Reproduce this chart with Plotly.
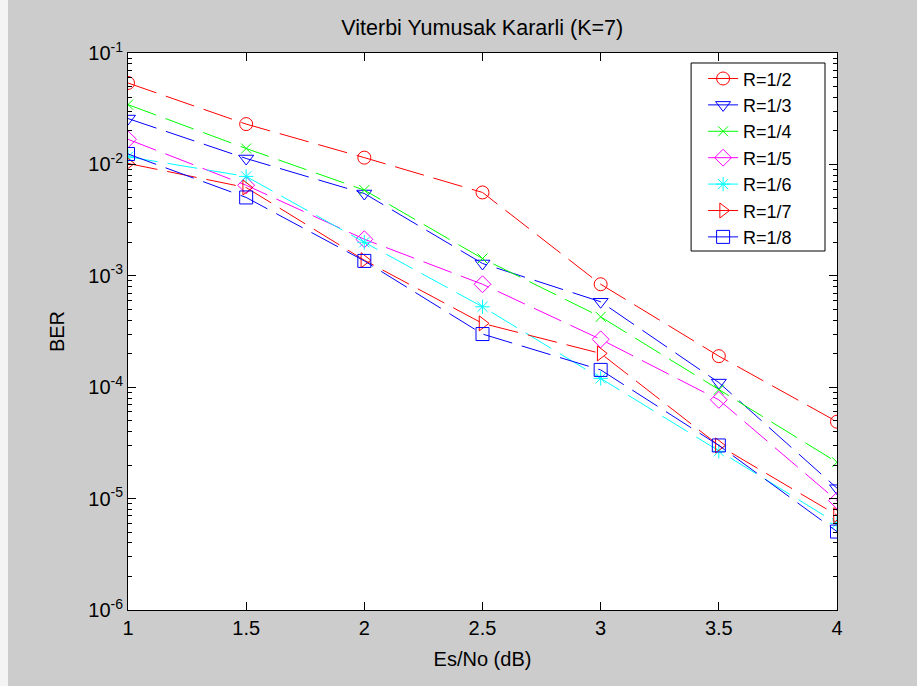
import plotly.graph_objects as go

# ---- data ----
snr_db = [1, 1.5, 2, 2.5, 3, 3.5, 4]
ber_r2 = [5.38e-2, 2.30e-2, 1.15e-2, 5.6e-3, 8.4e-4, 1.9e-4, 4.9e-5]
ber_r3 = [2.58e-2, 1.13e-2, 5.48e-3, 1.29e-3, 5.85e-4, 1.10e-4, 1.24e-5]
ber_r4 = [3.44e-2, 1.39e-2, 5.88e-3, 1.43e-3, 4.28e-4, 9.5e-5, 2.12e-5]
ber_r5 = [1.68e-2, 6.5e-3, 2.13e-3, 8.4e-4, 2.69e-4, 7.7e-5, 9.6e-6]
ber_r6 = [1.17e-2, 7.8e-3, 2.0e-3, 5.27e-4, 1.2e-4, 2.66e-5, 6.0e-6]
ber_r7 = [1.02e-2, 6.2e-3, 1.38e-3, 3.74e-4, 2.01e-4, 3.0e-5, 7.1e-6]
ber_r8 = [1.24e-2, 5.05e-3, 1.36e-3, 3.0e-4, 1.43e-4, 3.0e-5, 5.06e-6]

names = ["R=1/2", "R=1/3", "R=1/4", "R=1/5", "R=1/6", "R=1/7", "R=1/8"]
series = [ber_r2, ber_r3, ber_r4, ber_r5, ber_r6, ber_r7, ber_r8]
colors = ["#FF0000", "#0000FF", "#00FF00", "#FF00FF", "#00FFFF", "#FF0000", "#0000FF"]
symbols = ["circle-open", "triangle-down-open", "x-thin-open", "diamond-open",
           "asterisk-open", "triangle-right-open", "square-open"]
sizes = [13, 13, 10, 13, 12, 13, 13]

x_ticks = [1, 1.5, 2, 2.5, 3, 3.5, 4]
x_ticktext = ["1", "1.5", "2", "2.5", "3", "3.5", "4"]
y_ticks = [1e-6, 1e-5, 1e-4, 1e-3, 1e-2, 1e-1]
y_ticktext = ["10<sup>-6</sup>", "10<sup>-5</sup>", "10<sup>-4</sup>",
              "10<sup>-3</sup>", "10<sup>-2</sup>", "10<sup>-1</sup>"]

OFF = 8  # white strip on the left of the window
W, H = 917 - OFF, 686
L, R, T, B = 127.5 - OFF, 80, 52.7, 75.5
FONT = "Liberation Sans, Arial, sans-serif"

fig = go.Figure()
for name, ys, c, s, sz in zip(names, series, colors, symbols, sizes):
    fig.add_trace(go.Scatter(
        x=snr_db, y=ys, name=name, mode="lines+markers",
        line=dict(color=c, width=1, dash="30px,10px"),
        marker=dict(symbol=s, size=sz, color=c, line=dict(color=c, width=1)),
    ))

pw = W - L - R
ph = H - T - B


def px_x(p):  # page pixel -> paper x
    return (p - OFF - L) / pw


def px_y(p):  # page pixel -> paper y
    return 1 - (p - T) / ph


# legend frame (MATLAB style box)
fig.add_shape(type="rect", xref="paper", yref="paper",
              x0=px_x(691), x1=px_x(825), y0=px_y(251), y1=px_y(62.7),
              fillcolor="white", line=dict(color="black", width=1), layer="above")

fig.update_layout(
    width=W, height=H,
    margin=dict(l=L, r=R, t=T, b=B, pad=0),
    paper_bgcolor="#cccccc",
    plot_bgcolor="white",
    font=dict(family=FONT, size=20, color="black"),
    title=dict(text="Viterbi Yumusak Kararli (K=7)", x=(L + pw / 2) / W, xanchor="center",
               y=1 - 27 / H, yanchor="middle", yref="container",
               font=dict(family=FONT, size=21.5, color="black")),
    showlegend=True,
    legend=dict(x=px_x(703), y=px_y(60), xanchor="left", yanchor="top",
                bgcolor="rgba(0,0,0,0)", borderwidth=0,
                font=dict(family=FONT, size=18, color="black"),
                itemwidth=30, tracegroupgap=0),
    xaxis=dict(range=[1, 4], tickvals=x_ticks, ticktext=x_ticktext,
               ticks="inside", ticklen=8, tickcolor="black", tickwidth=1,
               showline=True, linecolor="black", linewidth=1, mirror="ticks",
               showgrid=False, zeroline=False,
               title=dict(text="Es/No (dB)", standoff=13,
                          font=dict(family=FONT, size=20, color="black"))),
    yaxis=dict(type="log", range=[-6, -1], tickvals=y_ticks, ticktext=y_ticktext,
               ticks="inside", ticklen=8, tickcolor="black", tickwidth=1,
               showline=True, linecolor="black", linewidth=1, mirror="ticks",
               showgrid=False, zeroline=False,
               minor=dict(ticks="inside", ticklen=4, tickcolor="black", dtick="D1", showgrid=False),
               title=dict(text="BER", standoff=18,
                          font=dict(family=FONT, size=20, color="black"))),
)

fig.write_html(
    "out.html",
    post_script="document.body.style.margin='0 0 0 8px';"
                "document.body.style.overflow='hidden';"
                "document.body.style.background='#f4f4f4';",
)
